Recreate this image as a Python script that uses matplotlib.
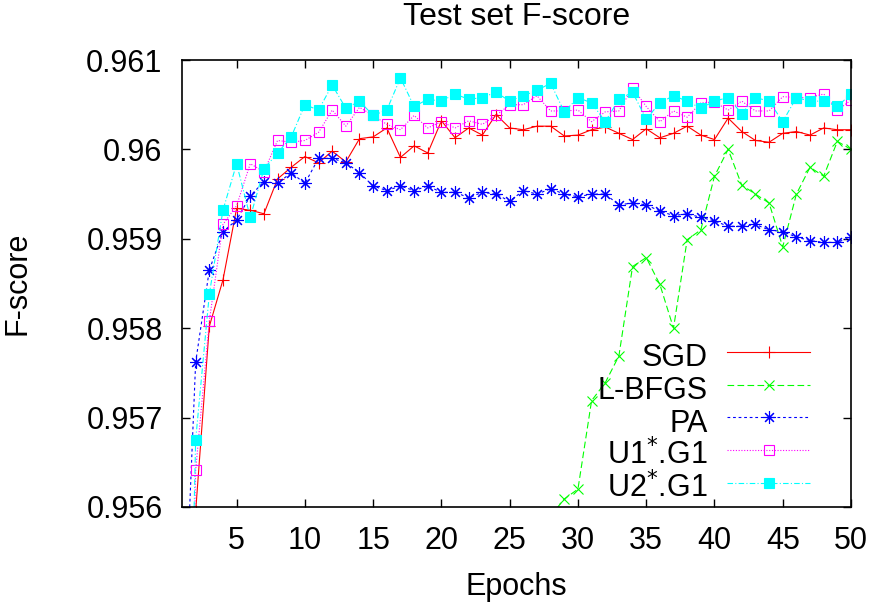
import matplotlib
matplotlib.use('Agg')
import matplotlib.pyplot as plt
import numpy as np

epochs = np.arange(1, 51)
sgd = [0.9480, 0.95595, 0.95802, 0.95854, 0.95934, 0.95932, 0.95928, 0.95967, 0.95980, 0.95992,
       0.95985, 0.95998, 0.95986, 0.96012, 0.96014, 0.96024, 0.95991, 0.96004, 0.95996, 0.96032,
       0.96013, 0.96024, 0.96016, 0.96039, 0.96024, 0.96022, 0.96026, 0.96026, 0.96015, 0.96016,
       0.96022, 0.96025, 0.96018, 0.96011, 0.96023, 0.96013, 0.96018, 0.96026, 0.96016, 0.96011,
       0.96035, 0.96020, 0.96010, 0.96008, 0.96018, 0.96020, 0.96016, 0.96024, 0.96022, 0.96022]
lbfgs_epochs = np.arange(28, 51)
lbfgs = [0.95590, 0.95609, 0.95620, 0.95719, 0.95739, 0.95769, 0.95869, 0.95879, 0.95849, 0.95800,
         0.95899, 0.95910, 0.95970, 0.96000, 0.95960, 0.95950, 0.95940, 0.95891, 0.95950, 0.95980,
         0.95970, 0.96009, 0.96000]
pa = [0.9539, 0.95762, 0.95865, 0.95908, 0.95921, 0.95948, 0.95964, 0.95962, 0.95974, 0.95962,
      0.95990, 0.95990, 0.95985, 0.95974, 0.95959, 0.95954, 0.95959, 0.95954, 0.95959, 0.95952,
      0.95952, 0.95946, 0.95952, 0.95950, 0.95942, 0.95954, 0.95950, 0.95956, 0.95950, 0.95947,
      0.95950, 0.95950, 0.95938, 0.95940, 0.95938, 0.95931, 0.95926, 0.95928, 0.95924, 0.95920,
      0.95914, 0.95914, 0.95916, 0.95910, 0.95908, 0.95902, 0.95898, 0.95896, 0.95896, 0.95902]
u1 = [0.9490, 0.95641, 0.95808, 0.95916, 0.95937, 0.95984, 0.95975, 0.96010, 0.96008, 0.96010,
      0.96019, 0.96044, 0.96026, 0.96047, 0.96038, 0.96028, 0.96022, 0.96038, 0.96024, 0.96031,
      0.96024, 0.96032, 0.96028, 0.96038, 0.96050, 0.96050, 0.96060, 0.96043, 0.96043, 0.96044,
      0.96031, 0.96042, 0.96043, 0.96069, 0.96048, 0.96031, 0.96043, 0.96036, 0.96052, 0.96053,
      0.96044, 0.96054, 0.96043, 0.96043, 0.96059, 0.96058, 0.96058, 0.96062, 0.96044, 0.96055]
u2 = [0.9500, 0.95675, 0.95838, 0.95932, 0.95984, 0.95924, 0.95978, 0.95996, 0.96014, 0.96050,
      0.96044, 0.96072, 0.96046, 0.96054, 0.96038, 0.96044, 0.96080, 0.96048, 0.96056, 0.96054,
      0.96062, 0.96056, 0.96058, 0.96064, 0.96054, 0.96060, 0.96066, 0.96074, 0.96042, 0.96058,
      0.96052, 0.96031, 0.96056, 0.96064, 0.96034, 0.96052, 0.96060, 0.96054, 0.96046, 0.96054,
      0.96058, 0.96040, 0.96058, 0.96054, 0.96031, 0.96058, 0.96054, 0.96054, 0.96048, 0.96062]

xticks = [5, 10, 15, 20, 25, 30, 35, 40, 45, 50]
yticks = [0.956, 0.957, 0.958, 0.959, 0.960, 0.961]
ytick_labels = ['0.956', '0.957', '0.958', '0.959', '0.96', '0.961']

plt.rcParams['font.family'] = ['Liberation Sans', 'DejaVu Sans']
plt.rcParams['font.size'] = 22
plt.rcParams['figure.figsize'] = (8.72, 6.06)

fig = plt.figure()
ax = fig.add_axes([182 / 872, 1 - 507 / 606, 669 / 872, 447 / 606])

lw = 0.8
ax.plot(epochs, sgd, color='#ff0000', lw=lw, ls='-', marker='+', ms=9, mew=0.8, label='SGD')
ax.plot(lbfgs_epochs, lbfgs, color='#00ff00', lw=lw, ls=(0, (6, 3)), marker='x', ms=7, mew=0.8, label='L-BFGS')
ax.plot(epochs, pa, color='#0000ff', lw=lw, ls=(0, (2.5, 2.5)), marker=(8, 2, 0), ms=9, mew=0.8, label='PA')
ax.plot(epochs, u1, color='#ff00ff', lw=lw, ls=(0, (1, 1.5)), marker='s', ms=6.5, mfc='none', mew=0.8,
        label='U1$^{*}$.G1')
ax.plot(epochs, u2, color='#00ffff', lw=lw, ls=(0, (5, 2, 1, 2)), marker='s', ms=6.5, mew=0.8,
        label='U2$^{*}$.G1')

ax.set_xlim(1, 50)
ax.set_ylim(0.956, 0.961)
ax.set_xticks(xticks)
ax.set_yticks(yticks)
ax.set_yticklabels(ytick_labels)
ax.tick_params(direction='in', length=6, width=1, top=True, right=True, pad=14)
for s in ax.spines.values():
    s.set_linewidth(1.2)

ax.set_xlabel('Epochs', labelpad=11)
ax.set_ylabel('F-score', labelpad=39)
ax.set_title('Test set F-score', fontsize=23, pad=25)

# tall handle boxes keep every legend row the same height
leg = ax.legend(loc='lower right', bbox_to_anchor=(0.975, -0.052), frameon=False, markerfirst=False,
                handlelength=2.7, handleheight=1.5, handletextpad=0.65, labelspacing=-0.15, borderpad=0.3)
for col in leg._legend_handle_box.get_children():
    col.align = 'right'

plt.savefig('out.png', dpi=100)
